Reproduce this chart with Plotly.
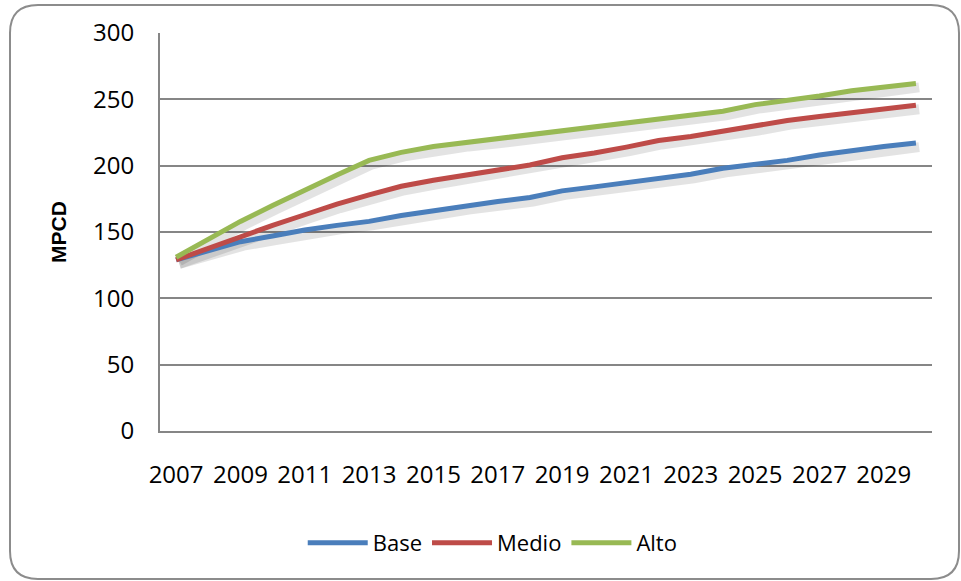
import plotly.graph_objects as go

# Gas demand scenarios (MPCD), 2007-2030
years = list(range(2007, 2031))
base = [129, 136, 142.7, 147, 151.5, 155, 158, 162.5, 166, 170, 173, 176,
        181, 184, 187, 190.5, 193.5, 198, 201, 204, 208, 211.5, 214.5, 217]
medio = [129, 138, 147, 155, 163, 171, 178, 184.5, 189, 193, 197, 200.5,
         206, 209.5, 214, 219, 222, 226, 229.5, 234, 237, 240, 243, 245.5]
alto = [131, 145, 158, 170, 182, 193, 204, 210, 214.5, 217.5, 220, 223,
        226, 229, 232, 235, 238, 241, 246, 249, 252.5, 256.5, 259.5, 262]
tick_years = list(range(2007, 2031, 2))

series = [("Base", base, "#4A7EBB"), ("Medio", medio, "#BE4B48"), ("Alto", alto, "#98B954")]

W, H = 961, 581
L, R, T, B = 160, 29, 33, 150
PW, PH = W - L - R, H - T - B

fig = go.Figure()

# soft drop shadows under each line
for name, vals, col in series:
    fig.add_trace(go.Scatter(
        x=[y + 0.1 for y in years], y=[v - 3 for v in vals], mode="lines",
        line=dict(color="rgba(0,0,0,0.11)", width=10), hoverinfo="skip", showlegend=False))
for name, vals, col in series:
    fig.add_trace(go.Scatter(
        x=years, y=vals, mode="lines", name=name,
        line=dict(color=col, width=5)))


def to_paper(px, py):
    return (px - L) / PW, (H - B - py) / PH


def rounded_rect(x0, y0, x1, y1, r):
    pts = [
        ("M", [(x0 + r, y0)]), ("L", [(x1 - r, y0)]), ("Q", [(x1, y0), (x1, y0 + r)]),
        ("L", [(x1, y1 - r)]), ("Q", [(x1, y1), (x1 - r, y1)]),
        ("L", [(x0 + r, y1)]), ("Q", [(x0, y1), (x0, y1 - r)]),
        ("L", [(x0, y0 + r)]), ("Q", [(x0, y0), (x0 + r, y0)]),
    ]
    out = []
    for cmd, ps in pts:
        coords = " ".join("%.5f,%.5f" % to_paper(a, b) for a, b in ps)
        out.append(cmd + coords)
    return " ".join(out) + " Z"


fig.add_shape(type="path", xref="paper", yref="paper",
              path=rounded_rect(10, 5, 959, 579, 28),
              line=dict(color="#8C8C8C", width=2), layer="below")

font_main = "Open Sans, Calibri, sans-serif"
fig.update_layout(
    width=W, height=H,
    margin=dict(l=L, r=R, t=T, b=B),
    paper_bgcolor="white", plot_bgcolor="white",
    font=dict(family=font_main, size=23, color="black"),
    xaxis=dict(range=[2006.5, 2030.5], tickvals=tick_years, ticktext=[str(y) for y in tick_years],
               showgrid=False, zeroline=False, showline=True, linecolor="#868686", linewidth=2,
               ticks="", ticklabelstandoff=21, tickfont=dict(size=24)),
    yaxis=dict(range=[0, 300], dtick=50, showgrid=True, gridcolor="#868686", gridwidth=2,
               zeroline=False, showline=True, linecolor="#868686", linewidth=2,
               ticks="", ticklabelstandoff=19, tickfont=dict(size=24),
               title=dict(text="<b>MPCD</b>", font=dict(family="Liberation Sans, Arial, sans-serif", size=21),
                          standoff=21)),
    legend=dict(orientation="h", x=0.431, xanchor="center", y=-0.281, yanchor="middle",
                font=dict(size=22), bgcolor="rgba(0,0,0,0)", itemwidth=60),
    showlegend=True,
)

fig.write_html("out.html")
